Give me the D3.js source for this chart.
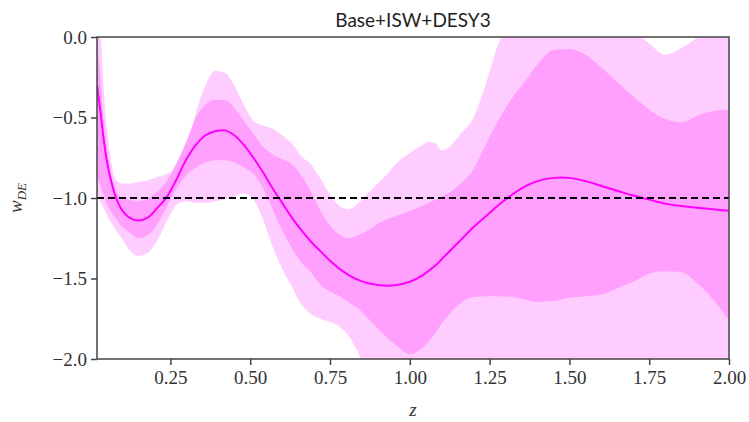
<!DOCTYPE html>
<html>
<head>
<meta charset="utf-8">
<script src="https://cdn.jsdelivr.net/npm/d3@7"></script>
<style>
  html, body { margin: 0; padding: 0; background: #fff; }
  svg { display: block; }
</style>
</head>
<body>
<svg id="chart" width="749" height="422"></svg>
<script>
// Redshift grid shared by the reconstruction and its credible bands
const zGrid = [0.02, 0.03, 0.04, 0.05, 0.06, 0.08, 0.10, 0.12, 0.15, 0.18, 0.21, 0.24, 0.27, 0.30,
  0.33, 0.36, 0.39, 0.42, 0.45, 0.48, 0.51, 0.54, 0.57, 0.60, 0.63, 0.66, 0.69, 0.72, 0.75, 0.78,
  0.81, 0.84, 0.87, 0.90, 0.93, 0.96, 1.00, 1.04, 1.06, 1.08, 1.10, 1.12, 1.16, 1.20, 1.24, 1.28,
  1.32, 1.36, 1.40, 1.45, 1.50, 1.55, 1.60, 1.65, 1.70, 1.75, 1.80, 1.85, 1.90, 1.95, 2.00];

// Mean reconstruction of w_DE(z)
const wMean = [-0.30, -0.45, -0.62, -0.76, -0.86, -1.00, -1.08, -1.12, -1.14, -1.12, -1.06, -0.99, -0.88, -0.76,
  -0.67, -0.61, -0.585, -0.58, -0.61, -0.67, -0.75, -0.84, -0.94, -1.03, -1.12, -1.20, -1.27, -1.33, -1.39, -1.44,
  -1.48, -1.51, -1.53, -1.54, -1.545, -1.54, -1.52, -1.48, -1.45, -1.42, -1.38, -1.34, -1.26, -1.18, -1.11, -1.04,
  -0.98, -0.93, -0.895, -0.875, -0.875, -0.895, -0.925, -0.955, -0.985, -1.01, -1.035, -1.05, -1.06, -1.07, -1.08];

// 68% band
const lo68 = [-0.86, -0.92, -0.98, -1.03, -1.07, -1.13, -1.18, -1.21, -1.25, -1.23, -1.16, -1.05, -0.94, -0.86,
  -0.81, -0.78, -0.765, -0.765, -0.78, -0.81, -0.85, -0.94, -1.07, -1.20, -1.31, -1.40, -1.46, -1.54, -1.58, -1.61,
  -1.65, -1.69, -1.75, -1.81, -1.87, -1.92, -1.97, -1.93, -1.89, -1.84, -1.78, -1.73, -1.65, -1.615, -1.61, -1.61,
  -1.615, -1.63, -1.645, -1.64, -1.62, -1.61, -1.60, -1.56, -1.52, -1.47, -1.455, -1.46, -1.53, -1.63, -1.76];
const hi68 = [-0.02, -0.25, -0.50, -0.68, -0.80, -0.96, -1.00, -1.01, -1.02, -1.00, -0.96, -0.89, -0.78, -0.65,
  -0.50, -0.42, -0.39, -0.39, -0.44, -0.52, -0.60, -0.68, -0.73, -0.76, -0.79, -0.86, -0.96, -1.08, -1.17, -1.23,
  -1.25, -1.23, -1.20, -1.16, -1.13, -1.11, -1.08, -1.05, -1.03, -1.01, -0.99, -0.97, -0.91, -0.82, -0.66, -0.51,
  -0.38, -0.28, -0.17, -0.08, -0.075, -0.11, -0.19, -0.28, -0.37, -0.45, -0.51, -0.53, -0.49, -0.46, -0.45];

// 95% band
const lo95 = [-0.98, -1.02, -1.06, -1.10, -1.14, -1.20, -1.26, -1.32, -1.36, -1.34, -1.26, -1.14, -1.04, -1.02,
  -1.03, -1.03, -1.02, -1.01, -0.99, -0.97, -1.01, -1.13, -1.30, -1.44, -1.55, -1.66, -1.72, -1.75, -1.77, -1.80,
  -1.86, -1.97, -2.1, -2.1, -2.1, -2.1, -2.1, -2.1, -2.1, -2.1, -2.1, -2.1, -2.1, -2.1, -2.1, -2.1,
  -2.1, -2.1, -2.1, -2.1, -2.1, -2.1, -2.1, -2.1, -2.1, -2.1, -2.1, -2.1, -2.1, -2.1, -2.1];
const hi95 = [0.30, 0.10, -0.30, -0.55, -0.72, -0.89, -0.91, -0.91, -0.90, -0.89, -0.87, -0.85, -0.82, -0.72,
  -0.47, -0.30, -0.21, -0.22, -0.30, -0.42, -0.52, -0.55, -0.57, -0.61, -0.66, -0.74, -0.79, -0.88, -0.98, -1.05,
  -1.07, -1.03, -0.97, -0.91, -0.85, -0.78, -0.72, -0.67, -0.65, -0.66, -0.705, -0.69, -0.60, -0.50, -0.28, -0.03,
  0.10, 0.10, 0.10, 0.10, 0.10, 0.10, 0.10, 0.10, 0.04, -0.04, -0.11, -0.07, -0.005, 0.06, 0.10];

const xTicks = [0.25, 0.50, 0.75, 1.00, 1.25, 1.50, 1.75, 2.00];
const yTicks = [0.0, -0.5, -1.0, -1.5, -2.0];
const wLambda = -1.0;
const titleText = "Base+ISW+DESY3";

const svg = d3.select("#chart");
const margin = { left: 97, right: 20, top: 37, bottom: 63 };
const W = 749, H = 422;

const x = d3.scaleLinear().domain([0.02, 2.0]).range([margin.left, W - margin.right]);
const y = d3.scaleLinear().domain([-2.0, 0.0]).range([H - margin.bottom, margin.top]);

const rows = zGrid.map((z, i) => ({ z, m: wMean[i], l1: lo68[i], h1: hi68[i], l2: lo95[i], h2: hi95[i] }));

svg.append("defs").append("clipPath").attr("id", "plot-clip")
  .append("rect")
  .attr("x", x.range()[0]).attr("y", y.range()[1])
  .attr("width", x.range()[1] - x.range()[0])
  .attr("height", y.range()[0] - y.range()[1]);

const plot = svg.append("g").attr("clip-path", "url(#plot-clip)");

const band = (lo, hi) => d3.area()
  .x(d => x(d.z)).y0(d => y(d[lo])).y1(d => y(d[hi]))
  .curve(d3.curveMonotoneX);

plot.append("path").datum(rows).attr("d", band("l2", "h2")).attr("fill", "#ffccff");
plot.append("path").datum(rows).attr("d", band("l1", "h1")).attr("fill", "#ffa0ff");

plot.append("path").datum(rows)
  .attr("d", d3.line().x(d => x(d.z)).y(d => y(d.m)).curve(d3.curveCatmullRom.alpha(0.5)))
  .attr("fill", "none").attr("stroke", "#ff00ff").attr("stroke-width", 2);

plot.append("line")
  .attr("x1", x.range()[0]).attr("x2", x.range()[1])
  .attr("y1", y(wLambda)).attr("y2", y(wLambda))
  .attr("stroke", "#000").attr("stroke-width", 2).attr("stroke-dasharray", "7,4");

// Axes
const fmtY = d => d3.format(".1f")(d).replace("-", "\u2212");
const xAxis = svg.append("g").attr("transform", `translate(0,${y.range()[0]})`)
  .call(d3.axisBottom(x).tickValues(xTicks).tickFormat(d3.format(".2f")).tickSizeOuter(0).tickSize(6).tickPadding(6));
const yAxis = svg.append("g").attr("transform", `translate(${x.range()[0]},0)`)
  .call(d3.axisLeft(y).tickValues(yTicks).tickFormat(fmtY).tickSizeOuter(0).tickSize(6).tickPadding(4));

[xAxis, yAxis].forEach(g => {
  g.select(".domain").remove();
  g.selectAll(".tick line").attr("stroke", "#444").attr("stroke-width", 1.5);
  g.selectAll(".tick text").attr("fill", "#333")
    .style("font-family", "'Liberation Serif', 'DejaVu Serif', serif").style("font-size", "19px");
});

// Frame around the plotting area
svg.append("rect")
  .attr("x", x.range()[0]).attr("y", y.range()[1])
  .attr("width", x.range()[1] - x.range()[0])
  .attr("height", y.range()[0] - y.range()[1])
  .attr("fill", "none").attr("stroke", "#444").attr("stroke-width", 1.5);

// Title and axis labels
svg.append("text")
  .attr("x", (x.range()[0] + x.range()[1]) / 2).attr("y", 27)
  .attr("text-anchor", "middle")
  .style("font-family", "Lato, 'Open Sans', sans-serif").style("font-size", "19px").attr("fill", "#222")
  .text(titleText);

svg.append("text")
  .attr("x", (x.range()[0] + x.range()[1]) / 2).attr("y", 416)
  .attr("text-anchor", "middle")
  .style("font-family", "'Liberation Serif', serif").style("font-style", "italic").style("font-size", "19px")
  .attr("fill", "#333")
  .text("z");

const yl = svg.append("text")
  .attr("transform", `translate(22,${y(-1.0)}) rotate(-90)`)
  .attr("text-anchor", "middle")
  .style("font-family", "'Liberation Serif', serif").style("font-style", "italic").style("font-size", "19px")
  .attr("fill", "#333");
yl.append("tspan").text("w");
yl.append("tspan").attr("dy", 4).style("font-size", "13px").text("DE");
</script>
</body>
</html>
